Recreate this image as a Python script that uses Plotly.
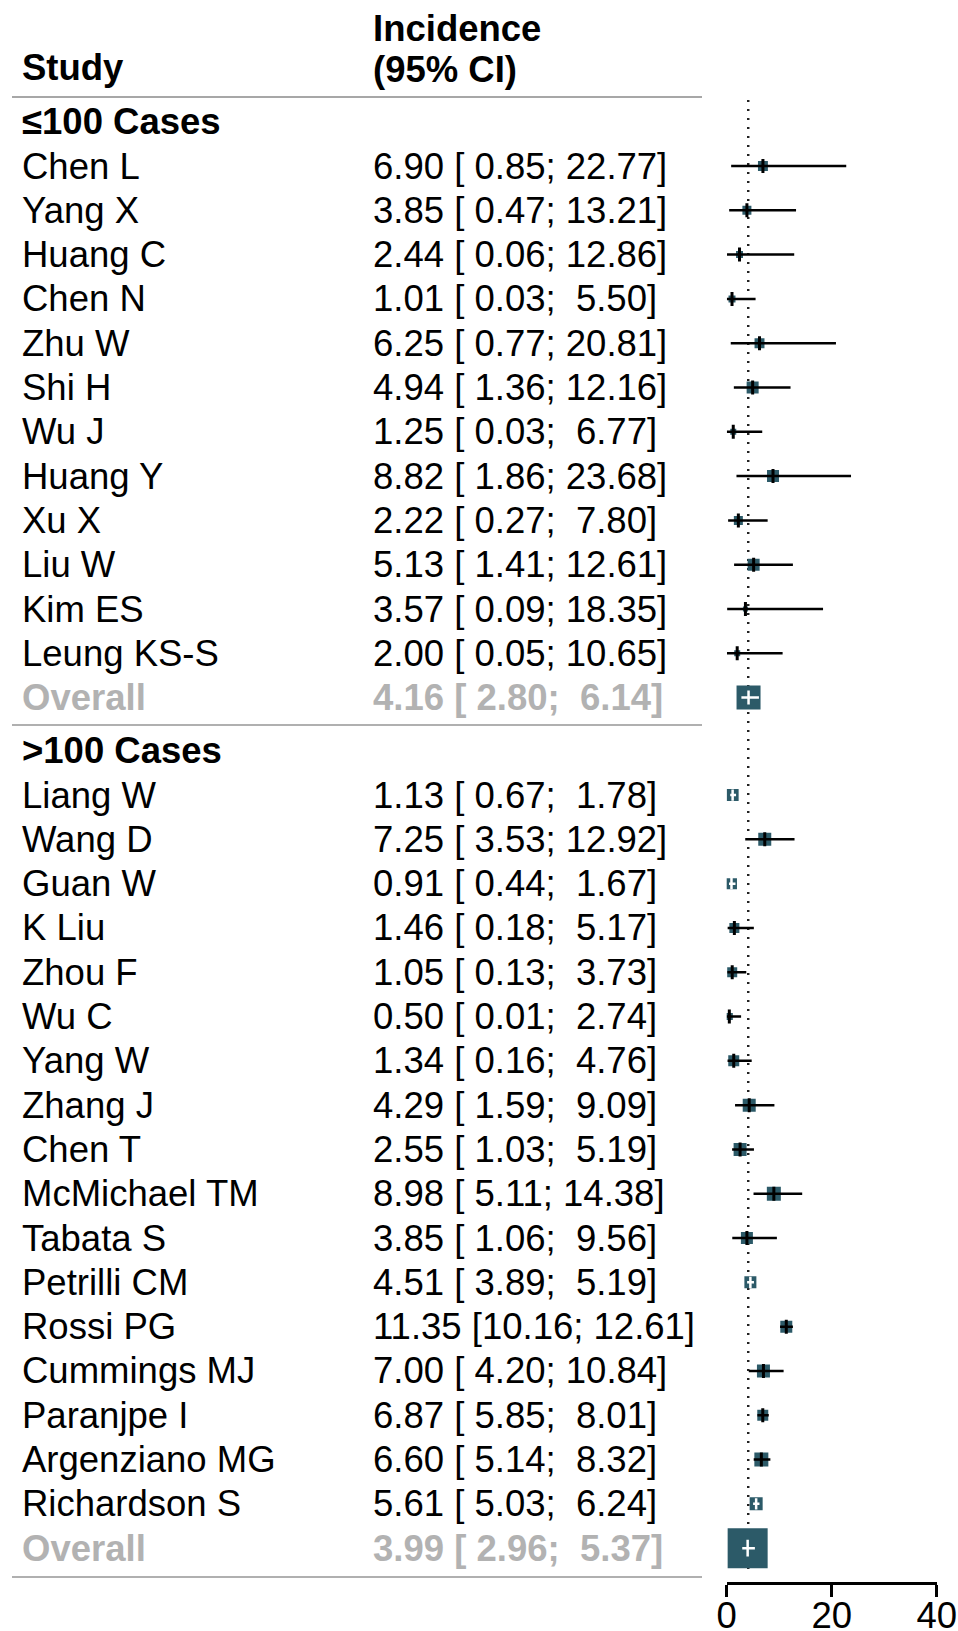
import math
import plotly.graph_objects as go

# ---------------- data ----------------
studies1 = ["Chen L", "Yang X", "Huang C", "Chen N", "Zhu W", "Shi H", "Wu J",
            "Huang Y", "Xu X", "Liu W", "Kim ES", "Leung KS-S"]
est1 = [6.90, 3.85, 2.44, 1.01, 6.25, 4.94, 1.25, 8.82, 2.22, 5.13, 3.57, 2.00]
lo1 = [0.85, 0.47, 0.06, 0.03, 0.77, 1.36, 0.03, 1.86, 0.27, 1.41, 0.09, 0.05]
hi1 = [22.77, 13.21, 12.86, 5.50, 20.81, 12.16, 6.77, 23.68, 7.80, 12.61, 18.35, 10.65]
weight1 = [11, 9, 5.4, 5.4, 11, 16, 4, 16, 9, 16, 2.8, 4]

studies2 = ["Liang W", "Wang D", "Guan W", "K Liu", "Zhou F", "Wu C", "Yang W",
            "Zhang J", "Chen T", "McMichael TM", "Tabata S", "Petrilli CM",
            "Rossi PG", "Cummings MJ", "Paranjpe I", "Argenziano MG", "Richardson S"]
est2 = [1.13, 7.25, 0.91, 1.46, 1.05, 0.50, 1.34, 4.29, 2.55, 8.98, 3.85, 4.51,
        11.35, 7.00, 6.87, 6.60, 5.61]
lo2 = [0.67, 3.53, 0.44, 0.18, 0.13, 0.01, 0.16, 1.59, 1.03, 5.11, 1.06, 3.89,
       10.16, 4.20, 5.85, 5.14, 5.03]
hi2 = [1.78, 12.92, 1.67, 5.17, 3.73, 2.74, 4.76, 9.09, 5.19, 14.38, 9.56, 5.19,
       12.61, 10.84, 8.01, 8.32, 6.24]
weight2 = [16, 18.8, 13.4, 11.1, 11.1, 5.4, 13.4, 18.8, 18.8, 21.8, 16, 16,
           16, 18.8, 13.4, 21.8, 18.8]

group_labels = ["\u2264100 Cases", ">100 Cases"]
overall_est = [4.16, 3.99]
overall_lo = [2.80, 2.96]
overall_hi = [6.14, 5.37]
reference_value = 4.10

x_ticks = [0, 20, 40]

# ---------------- layout constants ----------------
W, H = 958, 1631
FONT = "Liberation Sans, Arial, sans-serif"
TEAL = "#2C5A68"
GREY_TXT = "#b2b2b2"
ROW_PX = 44.3
ROW1_PX = 166.0
AX_PX = 1582.0
X0_PX, X1_PX = 726.7, 936.7
FS = 36.5


def row_of(px):
    return 1 + (px - ROW1_PX) / ROW_PX


def fmt(v):
    s = f"{v:.2f}"
    return ("\u00a0" + s) if v < 10 else s


def ci_text(e, l, h):
    return f"{e:.2f} [{fmt(l)}; {fmt(h)}]"


rows1 = [1 + i for i in range(len(studies1))]
ov_row1 = len(studies1) + 1
head_row2 = ov_row1 + 1.2
rows2 = [head_row2 + 1 + i for i in range(len(studies2))]
ov_row2 = rows2[-1] + 1
head_row1 = 0

est = est1 + est2
lo = lo1 + lo2
hi = hi1 + hi2
wts = weight1 + weight2
rows = rows1 + rows2
sizes = [3.0 * math.sqrt(w) for w in wts]
px_per_unit = (X1_PX - X0_PX) / (x_ticks[-1] - x_ticks[0])
inside = [(h - l) * px_per_unit < s for l, h, s in zip(lo, hi, sizes)]

fig = go.Figure()
fig.add_trace(go.Scatter(x=est, y=rows, mode="markers",
                         marker=dict(symbol="square", size=sizes, color=TEAL,
                                     opacity=1, line=dict(width=0)),
                         hoverinfo="skip", showlegend=False))
fig.add_trace(go.Scatter(x=overall_est, y=[ov_row1, ov_row2], mode="markers",
                         marker=dict(symbol="square", size=[24, 40], color=TEAL,
                                     opacity=1, line=dict(width=0)),
                         hoverinfo="skip", showlegend=False))


def seg_trace(idx, color, width):
    xs, ys = [], []
    for i in idx:
        xs += [lo[i], hi[i], None]
        ys += [rows[i], rows[i], None]
    return go.Scatter(x=xs, y=ys, mode="lines", line=dict(color=color, width=width),
                      hoverinfo="skip", showlegend=False)


black_idx = [i for i in range(len(est)) if not inside[i]]
white_idx = [i for i in range(len(est)) if inside[i]]
fig.add_trace(seg_trace(black_idx, "black", 2.5))
fig.add_trace(seg_trace(white_idx, "white", 2.5))

oxs, oys = [], []
for l, h, r in zip(overall_lo, overall_hi, [ov_row1, ov_row2]):
    oxs += [l, h, None]
    oys += [r, r, None]
fig.add_trace(go.Scatter(x=oxs, y=oys, mode="lines", line=dict(color="white", width=2.5),
                         hoverinfo="skip", showlegend=False))
fig.add_trace(go.Scatter(x=[est[i] for i in black_idx], y=[rows[i] for i in black_idx],
                         mode="markers",
                         marker=dict(symbol="line-ns", size=10, opacity=1,
                                     line=dict(color="black", width=3)),
                         hoverinfo="skip", showlegend=False))
fig.add_trace(go.Scatter(x=[est[i] for i in white_idx], y=[rows[i] for i in white_idx],
                         mode="markers",
                         marker=dict(symbol="line-ns", size=8, opacity=1,
                                     line=dict(color="white", width=2.5)),
                         hoverinfo="skip", showlegend=False))
fig.add_trace(go.Scatter(x=overall_est, y=[ov_row1, ov_row2], mode="markers",
                         marker=dict(symbol="line-ns", size=[10, 12], opacity=1,
                                     line=dict(color="white", width=2.5)),
                         hoverinfo="skip", showlegend=False))

shapes = [
    dict(type="line", xref="x", yref="y", x0=reference_value, x1=reference_value,
         y0=row_of(100), y1=row_of(1575),
         line=dict(color="#222222", width=2.5, dash="2px,7px"), layer="below"),
    dict(type="line", xref="paper", yref="y", x0=12 / W, x1=702 / W,
         y0=row_of(97), y1=row_of(97), line=dict(color="#8a8a8a", width=1.5)),
    dict(type="line", xref="paper", yref="y", x0=12 / W, x1=702 / W,
         y0=row_of(725), y1=row_of(725), line=dict(color="#b0b0b0", width=2)),
    dict(type="line", xref="paper", yref="y", x0=12 / W, x1=702 / W,
         y0=row_of(1577), y1=row_of(1577), line=dict(color="#b0b0b0", width=2)),
]

LX = 21.5 / W
CX = 373 / W
ann = []


def txt(x, y, s, color="black", bold=False):
    ann.append(dict(x=x, y=y, xref="paper", yref="y", text=(f"<b>{s}</b>" if bold else s),
                    showarrow=False, xanchor="left", yanchor="middle",
                    borderpad=0, borderwidth=0,
                    font=dict(family=FONT, size=FS, color=color)))


txt(LX, row_of(67), "Study", bold=True)
txt(CX, row_of(28), "Incidence", bold=True)
txt(CX, row_of(69), "(95% CI)", bold=True)
txt(LX, head_row1, group_labels[0], bold=True)
for s, e, l, h, r in zip(studies1, est1, lo1, hi1, rows1):
    txt(LX, r, s)
    txt(CX, r, ci_text(e, l, h))
txt(LX, ov_row1, "Overall", color=GREY_TXT, bold=True)
txt(CX, ov_row1, ci_text(overall_est[0], overall_lo[0], overall_hi[0]), color=GREY_TXT, bold=True)
txt(LX, head_row2, group_labels[1], bold=True)
for s, e, l, h, r in zip(studies2, est2, lo2, hi2, rows2):
    txt(LX, r, s)
    txt(CX, r, ci_text(e, l, h))
txt(LX, ov_row2, "Overall", color=GREY_TXT, bold=True)
txt(CX, ov_row2, ci_text(overall_est[1], overall_lo[1], overall_hi[1]), color=GREY_TXT, bold=True)

fig.update_layout(
    width=W, height=H,
    margin=dict(l=0, r=0, t=0, b=H - AX_PX, pad=0, autoexpand=False),
    paper_bgcolor="white", plot_bgcolor="white",
    shapes=shapes, annotations=ann, showlegend=False,
    xaxis=dict(domain=[X0_PX / W, X1_PX / W], range=[x_ticks[0], x_ticks[-1]],
               tickvals=x_ticks, ticktext=[str(t) for t in x_ticks],
               showline=True, linecolor="black", linewidth=2.5,
               ticks="outside", ticklen=12, tickwidth=2.5, tickcolor="black",
               ticklabelstandoff=-13, automargin=False,
               showgrid=False, zeroline=False,
               tickfont=dict(family=FONT, size=FS, color="black")),
    yaxis=dict(range=[row_of(AX_PX), row_of(0)], visible=False, showgrid=False,
               zeroline=False, automargin=False),
)

ps = ("document.documentElement.style.margin='0';"
      "document.body.style.margin='0';")

fig.write_html("out.html", config={"displayModeBar": False}, post_script=ps)
